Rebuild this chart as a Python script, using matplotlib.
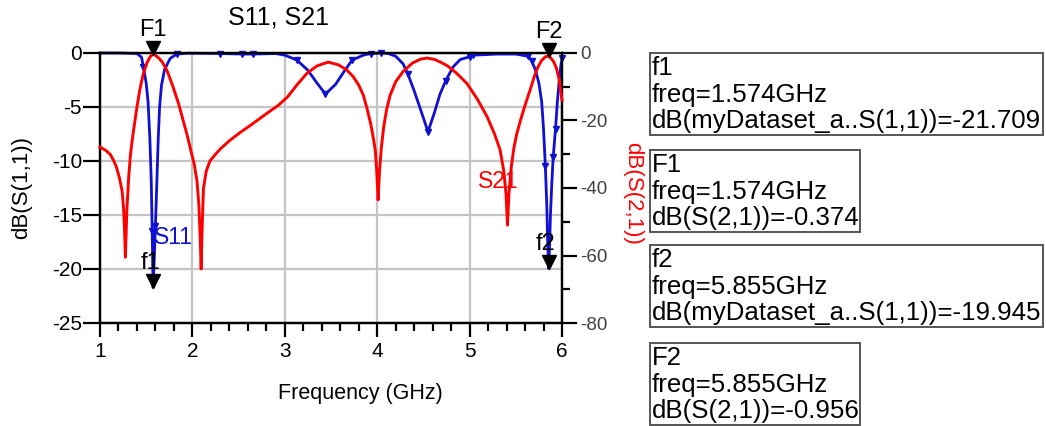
import numpy as np
import matplotlib
matplotlib.use("Agg")
import matplotlib.pyplot as plt
import matplotlib.transforms as mtransforms
from matplotlib.patches import Rectangle
from matplotlib.ticker import MultipleLocator

plt.rcParams['font.family'] = ['Liberation Sans', 'DejaVu Sans']
plt.rcParams['axes.unicode_minus'] = False

# S11 (left axis, dB)
s11_freq = [1.00, 1.20, 1.40, 1.45, 1.47, 1.50, 1.52, 1.54, 1.555, 1.565, 1.574, 1.585,
            1.60, 1.615, 1.63, 1.645, 1.665, 1.70, 1.76, 1.83, 1.95, 2.30, 2.54, 2.66,
            2.90, 3.00, 3.13, 3.25, 3.35, 3.44, 3.55, 3.65, 3.73, 3.85, 3.93, 4.04,
            4.12, 4.20, 4.28, 4.33, 4.40, 4.48, 4.55, 4.62, 4.68, 4.74, 4.82, 4.90,
            5.00, 5.04, 5.30, 5.50, 5.63, 5.67, 5.71, 5.75, 5.78, 5.80, 5.82, 5.835,
            5.845, 5.855, 5.865, 5.875, 5.89, 5.905, 5.93, 5.95, 5.97, 5.99, 6.00]
s11_db = [0, 0, -0.05, -0.4, -1.3, -2.8, -4.5, -8, -12, -16.5, -21.709, -19.5,
          -16, -12, -8, -5, -3, -1.5, -0.5, -0.1, -0.02, -0.05, -0.1, -0.1,
          -0.05, -0.2, -0.65, -1.6, -2.8, -3.8, -2.9, -1.6, -0.65, -0.2, -0.05, 0,
          -0.05, -0.3, -1.0, -1.9, -3.5, -5.5, -7.3, -5.5, -3.8, -2.6, -1.3, -0.6,
          -0.35, -0.2, -0.1, -0.1, -0.3, -0.7, -1.5, -2.8, -4.5, -7, -10.5, -14,
          -17.5, -19.945, -18, -15, -12, -9.6, -7, -4.5, -2.5, -1.0, -0.5]
# frequencies where the little triangle symbols sit on S11
s11_symbol_freq = [1.47, 1.565, 1.60, 1.83, 2.30, 2.54, 2.66, 3.13, 3.44, 3.73, 3.93,
                   4.04, 4.33, 4.55, 4.74, 5.00, 5.04, 5.63, 5.67, 5.82, 5.905, 5.93, 6.00]

# S21 (right axis, dB)
s21_freq = [1.00, 1.06, 1.11, 1.15, 1.18, 1.21, 1.24, 1.255, 1.265, 1.275, 1.29, 1.31,
            1.33, 1.36, 1.40, 1.43, 1.47, 1.51, 1.545, 1.574, 1.60, 1.64, 1.68, 1.73,
            1.79, 1.85, 1.90, 1.94, 1.98, 2.02, 2.05, 2.07, 2.085, 2.095, 2.105, 2.12,
            2.15, 2.19, 2.25, 2.30, 2.40, 2.52, 2.65, 2.81, 2.93, 3.03, 3.13, 3.24,
            3.35, 3.47, 3.58, 3.67, 3.74, 3.80, 3.85, 3.89, 3.93, 3.96, 3.98, 3.995,
            4.01, 4.025, 4.045, 4.07, 4.10, 4.14, 4.20, 4.28, 4.38, 4.47, 4.54, 4.62,
            4.70, 4.76, 4.86, 4.97, 5.08, 5.19, 5.27, 5.33, 5.37, 5.395, 5.41, 5.425,
            5.45, 5.48, 5.51, 5.55, 5.60, 5.66, 5.70, 5.74, 5.78, 5.82, 5.855, 5.88,
            5.91, 5.94, 5.97, 6.00]
s21_db = [-27.9, -28.8, -30, -32, -34, -37, -41, -46, -52, -60.5, -47, -37,
          -30, -23.5, -16, -11, -6, -2.8, -1.0, -0.374, -0.7, -1.6, -2.9, -5.5,
          -10, -15, -20, -24, -28.5, -33, -38, -45, -55, -64, -52, -40,
          -35, -32, -30, -28.5, -26, -23.5, -21, -17.8, -15.5, -13, -9.5, -6,
          -3.8, -2.7, -3.5, -5, -7, -9.5, -12.5, -16.5, -21, -25.5, -29, -35,
          -43.5, -35, -28, -22, -17, -12.5, -8.5, -5.5, -3, -1.8, -1.5, -1.9,
          -2.9, -3.8, -6, -9, -13.5, -18.9, -24, -28.7, -35, -42, -51, -42,
          -34, -28, -24, -20, -15.5, -10.5, -7, -4.1, -2.2, -1.1, -0.956, -1.5,
          -2.6, -4.5, -8, -14]

# markers
f_marker_freq = [1.574, 5.855]
f_marker_s11 = [-21.709, -19.945]
F_marker_s21 = [-0.374, -0.956]

box_texts = [
    "f1\nfreq=1.574GHz\ndB(myDataset_a..S(1,1))=-21.709",
    "F1\nfreq=1.574GHz\ndB(S(2,1))=-0.374",
    "f2\nfreq=5.855GHz\ndB(myDataset_a..S(1,1))=-19.945",
    "F2\nfreq=5.855GHz\ndB(S(2,1))=-0.956",
]

W, H = 1046, 426
fig = plt.figure(figsize=(W / 100, H / 100), dpi=100)
ax = fig.add_axes([100 / W, 1 - 323 / H, 462 / W, 270 / H])
ax2 = ax.twinx()

blue = '#1010d0'
red = '#ff0000'

sym_idx = [s11_freq.index(f) for f in s11_symbol_freq]
ax.plot(s11_freq, s11_db, color=blue, lw=2.0, marker='v', markersize=5,
        markevery=sym_idx, clip_on=False, zorder=3)
ax2.plot(s21_freq, s21_db, color=red, lw=2.1, clip_on=False, zorder=3)

ax.set_xlim(1, 6)
ax.set_ylim(-25, 0)
ax2.set_ylim(-80, 0)

ax.xaxis.set_major_locator(MultipleLocator(1))
ax.xaxis.set_minor_locator(MultipleLocator(0.2))
ax.yaxis.set_major_locator(MultipleLocator(5))
ax2.yaxis.set_major_locator(MultipleLocator(20))
ax2.yaxis.set_minor_locator(MultipleLocator(10))

ax.grid(True, which='major', color='#c4c4c4', lw=1.6)
ax.set_axisbelow(True)

for sp in list(ax.spines.values()) + list(ax2.spines.values()):
    sp.set_linewidth(1.6)
    sp.set_color('black')

ax.tick_params(axis='y', which='major', direction='out', length=12, width=1.6,
               labelsize=15, pad=1, right=False)
ax.tick_params(axis='x', which='major', direction='out', length=10, width=1.6,
               labelsize=15, pad=4)
ax.tick_params(axis='x', which='minor', direction='out', length=6, width=1.6)
ax2.tick_params(axis='y', which='major', direction='out', length=11, width=1.6,
                labelsize=13.5, pad=2, labelcolor='#404040')
ax2.tick_params(axis='y', which='minor', direction='out', length=6, width=1.6)

# marker triangles (tip on the point)
tri_off = mtransforms.offset_copy(ax.transData, fig=fig, x=0, y=6, units='dots')
tri_off2 = mtransforms.offset_copy(ax2.transData, fig=fig, x=0, y=6, units='dots')
txt_off = mtransforms.offset_copy(ax.transData, fig=fig, x=-3, y=13, units='dots')
txt_off2 = mtransforms.offset_copy(ax2.transData, fig=fig, x=0, y=13, units='dots')
for i, (fx, s11v, s21v) in enumerate(zip(f_marker_freq, f_marker_s11, F_marker_s21)):
    ax.plot(fx, s11v, marker='v', color='black', markersize=10, transform=tri_off,
            clip_on=False, zorder=5)
    ax2.plot(fx, s21v, marker='v', color='black', markersize=10, transform=tri_off2,
             clip_on=False, zorder=5)
    ax.text(fx, s11v, f"f{i + 1}", transform=txt_off, ha='center', va='bottom',
            fontsize=17, color='black', zorder=6)
    ax2.text(fx, s21v, f"F{i + 1}", transform=txt_off2, ha='center', va='bottom',
             fontsize=17, color='black', zorder=6, clip_on=False)

# trace labels
fig.text(173 / W, 1 - 238 / H, "S11", color=blue, fontsize=16.5, ha='center', va='center')
fig.text(498 / W, 1 - 181 / H, "S21", color=red, fontsize=16.5, ha='center', va='center')

# titles / labels
fig.text(278 / W, 1 - 18 / H, "S11, S21", fontsize=18, ha='center', va='center')
fig.text(360 / W, 1 - 393 / H, "Frequency (GHz)", fontsize=15.5, ha='center', va='center')
fig.text(22 / W, 1 - 188 / H, "dB(S(1,1))", fontsize=16, rotation=90,
         ha='center', va='center')
fig.text(633 / W, 1 - 193 / H, "dB(S(2,1))", fontsize=16, rotation=270, color=red,
         ha='center', va='center')

# marker readout boxes
boxes = [(650, 1043, 53, 135), (650, 860, 150, 232), (650, 1043, 245, 327), (650, 860, 343, 425)]
for (x0, x1, y0, y1), t in zip(boxes, box_texts):
    fig.patches.append(Rectangle((x0 / W, 1 - y1 / H), (x1 - x0) / W, (y1 - y0) / H,
                                 transform=fig.transFigure, fill=False,
                                 edgecolor='#555555', lw=1.4))
    fig.text((x0 + 2) / W, 1 - (y0 + 3) / H, t, fontsize=18.6, ha='left', va='top',
             linespacing=1.14)

fig.savefig("out.png", dpi=100)
